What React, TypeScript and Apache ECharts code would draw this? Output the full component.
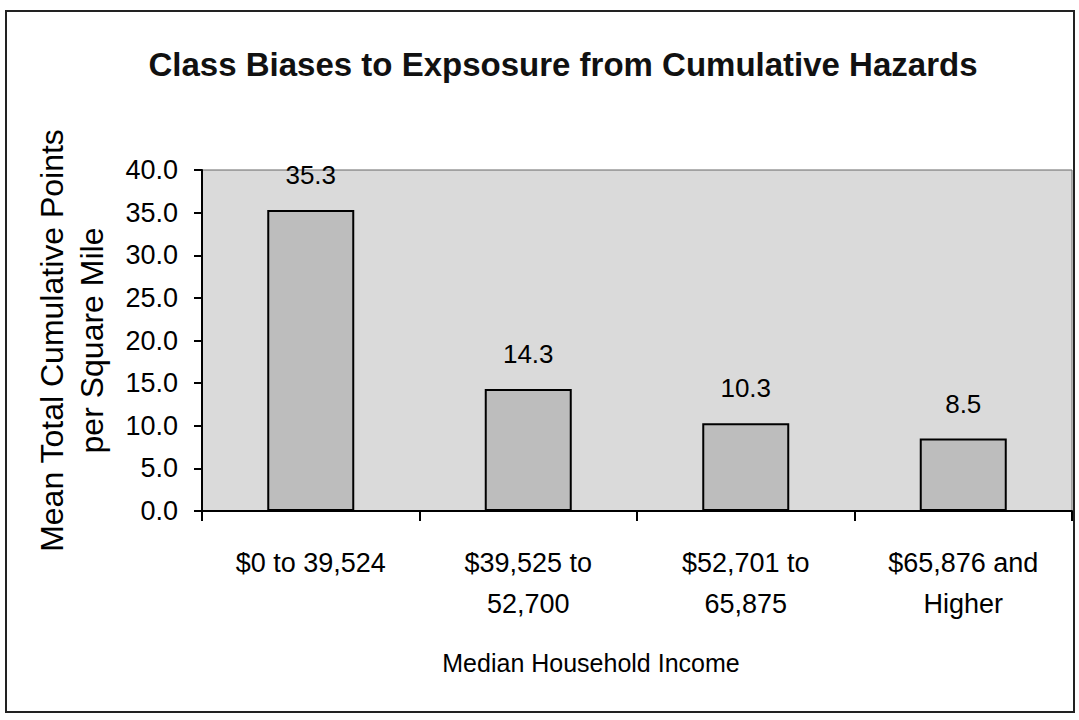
import React, { useEffect, useRef } from "react";
import * as echarts from "echarts";

const categories = ["$0 to 39,524", "$39,525 to\n52,700", "$52,701 to\n65,875", "$65,876 and\nHigher"];
const values = [35.3, 14.3, 10.3, 8.5];
const yTicks = { min: 0, max: 40, interval: 5 };
const titleText = "Class Biases to Expsosure from Cumulative Hazards";
const yName = "Mean Total Cumulative Points\nper Square Mile";
const xName = "Median Household Income";

const sans = "'Liberation Sans', Arial, sans-serif";

export default function App() {
  const ref = useRef<HTMLDivElement>(null);
  useEffect(() => {
    document.body.style.margin = "0";
    const chart = echarts.init(ref.current!, null, { renderer: "svg" });
    chart.setOption({
      animation: false,
      backgroundColor: "#ffffff",
      title: {
        text: titleText,
        left: 558,
        top: 43,
        textAlign: "center",
        textStyle: { fontFamily: sans, fontSize: 33, fontWeight: "bold", color: "#111" },
      },
      graphic: [
        {
          type: "rect",
          shape: { x: 6, y: 11, width: 1068, height: 701 },
          style: { fill: "none", stroke: "#222", lineWidth: 2 },
          silent: true,
        },
      ],
      grid: {
        left: 202,
        right: 7,
        top: 170,
        bottom: 209,
        show: true,
        backgroundColor: "#dadada",
        borderColor: "#666",
        borderWidth: 1,
      },
      xAxis: {
        type: "category",
        data: categories,
        name: xName,
        nameLocation: "middle",
        nameGap: 139,
        nameTextStyle: { fontFamily: sans, fontSize: 25, color: "#000", padding: [0, 92, 0, 0] },
        axisLine: { lineStyle: { color: "#000", width: 2 } },
        axisTick: { show: true, length: 10, lineStyle: { color: "#000", width: 2 } },
        axisLabel: {
          fontFamily: sans,
          fontSize: 27,
          color: "#000",
          margin: 31,
          lineHeight: 41,
        },
      },
      yAxis: {
        type: "value",
        min: yTicks.min,
        max: yTicks.max,
        interval: yTicks.interval,
        name: yName,
        nameLocation: "middle",
        nameRotate: 90,
        nameGap: 90,
        nameTextStyle: { fontFamily: sans, fontSize: 32, color: "#000", lineHeight: 40 },
        axisLine: { show: true, lineStyle: { color: "#000", width: 2 } },
        axisTick: { show: true, length: 8, lineStyle: { color: "#000", width: 2 } },
        splitLine: { show: false },
        axisLabel: {
          fontFamily: sans,
          fontSize: 27,
          color: "#000",
          margin: 24,
          formatter: (v: number) => v.toFixed(1),
        },
      },
      series: [
        {
          type: "bar",
          data: values,
          barWidth: "40%",
          itemStyle: { color: "#bdbdbd", borderColor: "#000", borderWidth: 2 },
          label: {
            show: true,
            position: "top",
            distance: 22,
            fontFamily: sans,
            fontSize: 26,
            color: "#000",
            formatter: (p: any) => p.value.toFixed(1),
          },
        },
      ],
    });
    return () => chart.dispose();
  }, []);
  return <div ref={ref} style={{ width: 1079, height: 720 }} />;
}
